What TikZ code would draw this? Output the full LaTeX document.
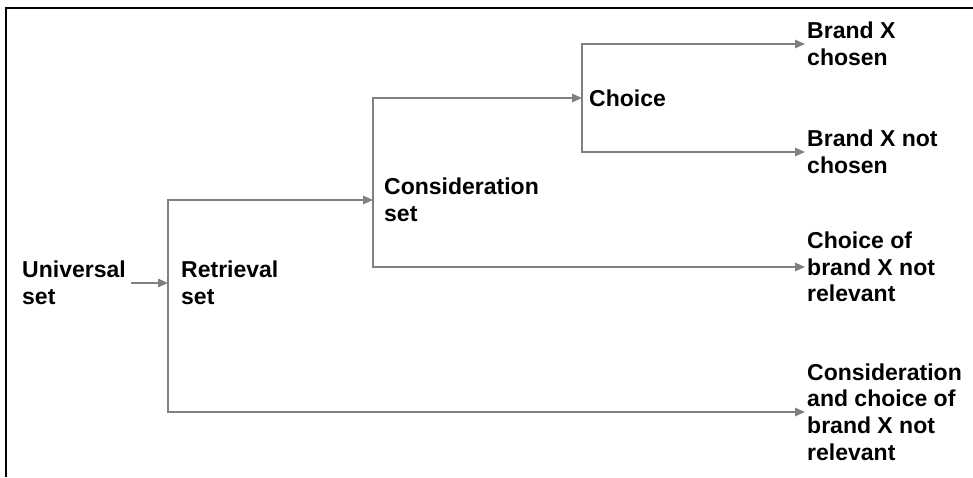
\documentclass[tikz,border=0pt]{standalone}
\usepackage{fontspec}
\setmainfont{Liberation Sans}
\usepackage{tikz}
\usetikzlibrary{arrows.meta, positioning}
\definecolor{linegray}{RGB}{128,128,128}

\begin{document}
\begin{tikzpicture}[x=1pt, y=-1pt,
    setbox/.style = {anchor=west, align=left, inner ysep=0pt,
      font=\fontsize{23}{26.6}\selectfont\bfseries},
    flow/.style   = {draw=linegray, line width=1.5pt,
      -{Triangle[length=10pt,width=8.5pt]}}
  ]
  \useasboundingbox (0,0) rectangle (973,477);
  \draw[line width=2pt] (6,477) -- (6,8) -- (973,8);

  \node[setbox, inner xsep=5pt]  (universal) at (17,283)  {Universal\\set};
  \node[setbox, inner xsep=13pt] (retrieval) at (168,283) {Retrieval\\set};
  \node[setbox, inner xsep=11pt] (consider)  at (373,200) {Consideration\\set};
  \node[setbox, inner xsep=7pt]  (choice)    at (582,98)  {Choice};
  \node[setbox, inner xsep=2pt]  (chosen)    at (805,44)  {Brand X\\chosen};
  \node[setbox, inner xsep=2pt]  (notchosen) at (805,152) {Brand X not\\chosen};
  \node[setbox, inner xsep=2pt]  (choiceirr) at (805,267) {Choice of\\brand X not\\relevant};
  \node[setbox, inner xsep=2pt]  (considirr) at (805,412) {Consideration\\and choice of\\brand X not\\relevant};

  \draw[flow] (universal.east) -- (retrieval.west);
  \draw[flow] (retrieval.west) |- (consider.west);
  \draw[flow] (retrieval.west) |- (considirr.west);
  \draw[flow] (consider.west) |- (choice.west);
  \draw[flow] (consider.west) |- (choiceirr.west);
  \draw[flow] (choice.west) |- (chosen.west);
  \draw[flow] (choice.west) |- (notchosen.west);
\end{tikzpicture}
\end{document}
